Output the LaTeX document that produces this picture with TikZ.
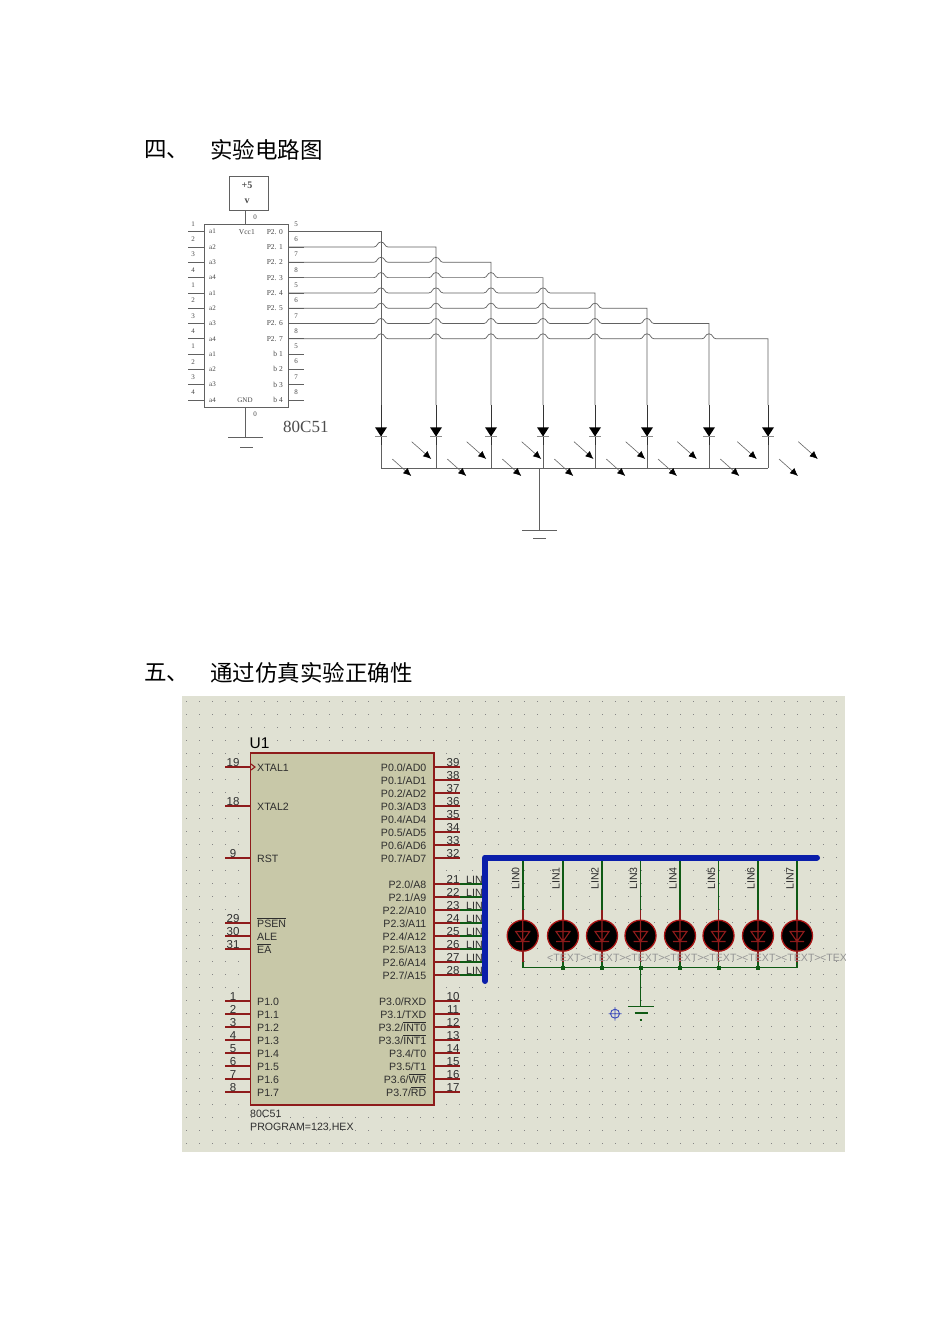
\documentclass[tikz,border=0pt]{standalone}
\usepackage{fontspec}
\setmainfont{Liberation Sans}
\newfontfamily\cjkf{Noto Sans CJK SC}
\newfontfamily\serf{Liberation Serif}
\usetikzlibrary{arrows.meta,calc}
\definecolor{bgc}{HTML}{E0E1D3}
\definecolor{chipc}{HTML}{C8C8A8}
\definecolor{redc}{HTML}{8E1B1B}
\definecolor{grnc}{HTML}{0F5A14}
\definecolor{busc}{HTML}{0A1EAA}
\definecolor{txtc}{HTML}{2E2E2E}
\newcommand{\ovl}[1]{\leavevmode\vbox{\hrule height .8pt\kern 1.3pt\hbox{#1}}}
\newcommand{\fs}[1]{\fontsize{#1}{#1}\selectfont}
\tikzset{
 heading/.style={anchor=west,inner sep=0,font=\cjkf\fs{22.5},text=black},
 oldline/.style={draw=black!62,line width=.7pt},
 oldtxt/.style={inner sep=0,font=\serf\fs{7},text=black!72},
 ledline/.style={draw=black!80,line width=.9pt},
 light/.style={draw=black!60,line width=.6pt,-{Latex[length=8pt,width=7pt,fill=black,color=black]}},
 pin/.style={draw=redc,line width=1.5pt},
 net/.style={draw=grnc,line width=1.6pt},
 ltxt/.style={anchor=west,inner sep=0,font=\fs{10.6},text=txtc},
 rtxt/.style={anchor=east,inner sep=0,font=\fs{10.6},text=txtc},
 num/.style={anchor=south,inner sep=0,font=\fs{11.5},text=txtc},
 led/.style={circle,fill=black,draw=redc!75!red,line width=1.3pt,minimum size=31pt,inner sep=0},
}
\begin{document}
\begin{tikzpicture}[x=1pt,y=-1pt]
\useasboundingbox (0,0) rectangle (950,1344);
\fill[white] (0,0) rectangle (950,1344);
\node[heading] (h4a) at (144,150) {四、};
\node[heading] (h4b) at (210,150) {实验电路图};
\node[heading] (h5a) at (144,673) {五、};
\node[heading] (h5b) at (210,673) {通过仿真实验正确性};

%%% upper circuit
\node[oldline,draw,minimum width=39pt,minimum height=34pt,inner sep=0] (vbox) at (248.5,193) {};
\node[inner sep=0,font=\serf\bfseries\fs{10},text=black!70] (vp) at (247,185) {+5};
\node[inner sep=0,font=\serf\bfseries\fs{10},text=black!70] (vv) at (247,201) {v};
\node[oldline,draw,minimum width=83.5pt,minimum height=183pt,inner sep=0] (chipA) at (246.25,315.5) {};
\draw[oldline] (vbox.south -| 245.7,0) -- (chipA.north -| 245.7,0);
\node[oldtxt] (z1) at (255,217) {0};
\node[oldtxt] (z2) at (255,414) {0};
\node[oldtxt,anchor=east,font=\serf\fs{7.5}] (vcc) at (255,231.7) {Vcc1};
\node[oldtxt] (gnd) at (245,400) {GND};
\coordinate (gt) at (245.7,437);
\draw[oldline] (chipA.south -| gt) -- (gt);
\draw[oldline] (228,437) -- (263,437);
\draw[oldline] (240,447) -- (253,447);
\node[inner sep=0,anchor=west,font=\serf\fs{17},text=black!70] (m80) at (283,427) {80C51};
\foreach \i/\a/\b/\r in {0/1/5/P2. 0,1/2/6/P2. 1,2/3/7/P2. 2,3/4/8/P2. 3,4/1/5/P2. 4,5/2/6/P2. 5,6/3/7/P2. 6,7/4/8/P2. 7,8/1/5/b 1,9/2/6/b 2,10/3/7/b 3,11/4/8/b 4}{
  \pgfmathsetmacro\yy{231.7+15.3*\i}
  \coordinate (la\i) at (188,\yy);
  \coordinate (ra\i) at (304,\yy);
  \draw[oldline] (la\i) -- (204.5,\yy);
  \draw[oldline] (288,\yy) -- (ra\i);
  \node[oldtxt] (ln\i) at (193,\yy-7.7) {\a};
  \node[oldtxt] (rn\i) at (296,\yy-7.7) {\b};
  \node[oldtxt,anchor=west] (lt\i) at (209,\yy) {a\a};
  \node[oldtxt,anchor=east,font=\serf\fs{7.5}] (rt\i) at (283,\yy) {\r};
}
\coordinate (busA) at (381,468);
\coordinate (busB) at (768,468);
\draw[oldline] (busA) -- (busB);
\foreach \i/\y/\xe/\hops in {0/231.7/381/{},1/247/436/{381},2/262.3/491/{381,436},3/277.6/543/{381,436,491},4/292.9/595/{381,436,491,543},5/308.2/647/{381,436,491,543,595},6/323.5/709/{381,436,491,543,595,647},7/338.8/768/{381,436,491,543,595,647,709}}{
  \draw[oldline] (288,\y)
    foreach \h in \hops { -- (\h-7,\y) .. controls (\h-3.5,\y) and (\h-4,\y-5) .. (\h,\y-5) .. controls (\h+4,\y-5) and (\h+3.5,\y) .. (\h+7,\y) }
    -- (\xe,\y) -- (\xe,405);
  \draw[ledline] (\xe,405) -- (\xe,445);
  \draw[oldline] (\xe,445) -- (\xe,468);
  \fill[black] (\xe-6,427.3) -- (\xe+6,427.3) -- (\xe,436.5) -- cycle;
  \draw[black!45,line width=.6pt] (\xe-6,436.5) -- (\xe+6,436.5);
}
\foreach \s in {411.7,466.7,521.7,574,625.7,677.3,737.3,798.3}{
  \draw[light] (\s,441.7) -- (\s+19.5,459);
}
\foreach \s in {392.3,447.3,502.3,554.3,606.3,658,720.3,779}{
  \draw[light] (\s,459) -- (\s+19,476);
}
\coordinate (gr2) at (539,530);
\draw[oldline] (539,468) -- (gr2);
\draw[oldline] (522,530) -- (557,530);
\draw[oldline] (533,538.5) -- (546,538.5);

%%% simulation
\fill[bgc] (182,696) rectangle (845,1152);
\foreach \c in {0,...,50}{
 \foreach \r in {0,...,34}{
  \fill[black!48] (186+13*\c-.4,701.7+13*\r-.4) rectangle ++(.8,.8);
 }
}
\node[draw=redc,line width=1.8pt,fill=chipc,minimum width=183.5pt,minimum height=352pt,inner sep=0] (U) at (342.25,929) {};
\node[anchor=west,inner sep=0,font=\fs{15.5},text=black] (u1) at (249.5,743.5) {U1};
\node[ltxt] (t80) at (250,1113.5) {80C51};
\node[ltxt] (tprog) at (250,1127) {PROGRAM=123.HEX};
% left pins
\foreach \n/\y/\t in {19/767/XTAL1,18/806/XTAL2,9/858/RST,29/923/\ovl{PSEN},30/936/ALE,31/949/\ovl{EA},1/1001/P1.0,2/1014/P1.1,3/1027/P1.2,4/1040/P1.3,5/1053/P1.4,6/1066/P1.5,7/1079/P1.6,8/1092/P1.7}{
  \coordinate (pL\n) at (225,\y);
  \draw[pin] (pL\n) -- (U.west |- pL\n);
  \node[num] (nL\n) at (233,\y-.5) {\n};
  \node[ltxt,anchor=base west] (tL\n) at (257,\y+4.5) {\t};
}
\draw[redc,line width=1.1pt,fill=chipc] (251,764) -- (255,767) -- (251,770);
% right pins
\foreach \n/\y in {39/767,38/780,37/793,36/806,35/819,34/832,33/845,32/858,21/884,22/897,23/910,24/923,25/936,26/949,27/962,28/975,10/1001,11/1014,12/1027,13/1040,14/1053,15/1066,16/1079,17/1092}{
  \coordinate (pR\n) at (460,\y);
  \draw[pin] (U.east |- pR\n) -- (pR\n);
  \node[num] (nR\n) at (453,\y-.5) {\n};
}
\foreach \y/\t in {767/{P0.0/AD0},780/{P0.1/AD1},793/{P0.2/AD2},806/{P0.3/AD3},819/{P0.4/AD4},832/{P0.5/AD5},845/{P0.6/AD6},858/{P0.7/AD7},884/{P2.0/A8},897/{P2.1/A9},910/{P2.2/A10},923/{P2.3/A11},936/{P2.4/A12},949/{P2.5/A13},962/{P2.6/A14},975/{P2.7/A15},1001/{P3.0/RXD},1014/{P3.1/TXD},1027/{P3.2/\ovl{INT0}},1040/{P3.3/\ovl{INT1}},1053/{P3.4/T0},1066/{P3.5/T1},1079/{P3.6/\ovl{WR}},1092/{P3.7/\ovl{RD}}}{
  \node[rtxt,anchor=base east] at (426.5,\y+4.5) {\t};
}
% bus entries
\coordinate (busTop) at (485,857.5);
\foreach \n/\k in {21/0,22/1,23/2,24/3,25/4,26/5,27/6,28/7}{
  \draw[net] (pR\n) -- (busTop |- pR\n);
  \node[anchor=south west,inner sep=0,font=\fs{10.6},text=txtc] (bl\n) at (466,0 |- pR\n) {LIN\k};
}
% LEDs
\coordinate (rail) at (523,967.5);
\foreach \k/\x in {0/522.7,1/563,2/602,3/640.5,4/680,5/718.5,6/758,7/797}{
  \draw[net] (\x,857.5) -- (\x,910);
  \draw[net] (\x,962) -- (\x,967.5);
  \draw[redc,line width=1.6pt] (\x,910) -- (\x,962);
  \node[led] (L\k) at (\x,935.7) {};
  \draw[redc,line width=1.1pt] (\x,920) -- (\x,952) (\x-7,941.5) -- (\x+7,941.5) (\x-7,931.5) -- (\x+7,931.5) -- (\x,941.5) -- cycle;
  \node[rotate=90,inner sep=0,font=\fs{10.6},text=txtc] (ln\k) at (\x-7,878.5) {LIN\k};
}
\draw[net] (522.7,967.5) -- (797,967.5);
\foreach \x in {563,602,640.5,680,718.5,758}{
  \fill[grnc] (\x-2,965.5) rectangle (\x+2,969.5);
}
\begin{scope}
\clip (182,696) rectangle (845,1152);
\foreach \k in {0,...,7}{
  \node[anchor=west,inner sep=0,font=\fs{10.6},text=black!42] (tx\k) at (547+39*\k,957.7) {<TEXT>};
}
\end{scope}
\coordinate (gnd3) at (640.5,1006);
\draw[net] (640.5,967.5) -- (gnd3);
\draw[net] (628,1006.5) -- (654,1006.5);
\draw[net] (634.5,1013) -- (648,1013);
\draw[net] (639.5,1020) -- (642,1020);
% origin marker
\draw[busc!80,line width=.9pt] (615,1013.7) circle (4.5) (608.5,1013.7) -- (621.5,1013.7) (615,1007) -- (615,1020.5);
% bus
\draw[busc,line width=6pt,line cap=round,line join=round] (485,981) -- (busTop) -- (817,857.5);
\end{tikzpicture}
\end{document}
